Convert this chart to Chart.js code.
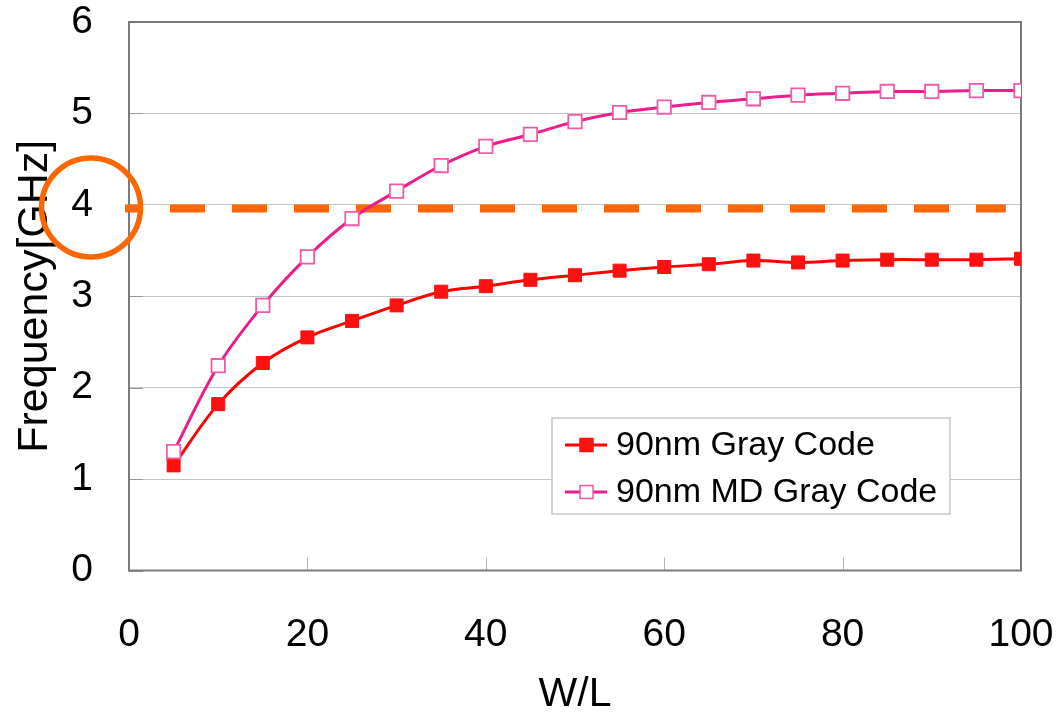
<!DOCTYPE html>
<html><head><meta charset="utf-8">
<script src="https://cdn.jsdelivr.net/npm/chart.js@4.4.1/dist/chart.umd.min.js"></script>
<style>html,body{margin:0;padding:0;background:#fff;}#wrap{width:1059px;height:714px;}</style>
</head><body><div id="wrap"><canvas id="c" width="1059" height="714"></canvas></div>
<script>
const wl = [5,10,15,20,25,30,35,40,45,50,55,60,65,70,75,80,85,90,95,100];
const grayCode = [1.15,1.82,2.27,2.55,2.73,2.90,3.05,3.11,3.18,3.23,3.28,3.32,3.35,3.39,3.37,3.39,3.40,3.40,3.40,3.41];
const mdGrayCode = [1.30,2.24,2.90,3.43,3.85,4.15,4.43,4.64,4.77,4.91,5.01,5.07,5.12,5.16,5.20,5.22,5.24,5.24,5.25,5.25];
const targetX = [-0.45, 98.3];
const targetY = [3.96, 3.96];
const seriesNames = ['90nm Gray Code', '90nm MD Gray Code'];
const xTicks = [0,20,40,60,80,100];
const yTicks = [0,1,2,3,4,5,6];

const FONT = "'Liberation Sans', Arial, sans-serif";
const RED = '#FF0000', RED_PT = '#FF1010';
const PINK = '#EC1C8C', PINK_PT = '#F25AA8';
const ORANGE = '#FF6600';

const toXY = (xs, ys) => xs.map((v, i) => ({x: v, y: ys[i]}));
const zeroPad = s => { s.paddingTop = 0; s.paddingBottom = 0; s.paddingLeft = 0; s.paddingRight = 0; };

const deco = {
  id: 'deco',
  beforeDatasetsDraw(chart) {
    const {ctx, chartArea: a, scales: {x, y}} = chart;
    ctx.save();
    ctx.strokeStyle = '#b4b4b4'; ctx.lineWidth = 1;
    xTicks.forEach(v => {
      if (v > 0 && v < 100) {
        const px = Math.round(x.getPixelForValue(v)) + 0.5;
        ctx.beginPath(); ctx.moveTo(px, a.bottom); ctx.lineTo(px, a.bottom - 13); ctx.stroke();
      }
    });
    ctx.strokeStyle = '#999';
    yTicks.forEach(v => {
      const py = Math.round(y.getPixelForValue(v)) + 0.5;
      ctx.beginPath(); ctx.moveTo(a.left, py); ctx.lineTo(a.left + 14, py); ctx.stroke();
    });
    ctx.strokeStyle = '#7a7a7a'; ctx.lineWidth = 2;
    ctx.strokeRect(a.left, a.top, a.right - a.left, a.bottom - a.top);
    ctx.restore();
  },
  afterDraw(chart) {
    const {ctx, chartArea: a, scales: {x, y}} = chart;
    ctx.save();
    ctx.strokeStyle = ORANGE; ctx.lineWidth = 5.5;
    ctx.beginPath();
    ctx.arc(a.left - 38, y.getPixelForValue(3.96) - 1, 49.5, 0, Math.PI * 2);
    ctx.stroke();
    const lx = 552, ly = 418, lw = 398, lh = 96;
    ctx.fillStyle = '#fff'; ctx.fillRect(lx, ly, lw, lh);
    ctx.strokeStyle = '#c8c8c8'; ctx.lineWidth = 1.5;
    ctx.strokeRect(lx, ly, lw, lh);
    const rows = [
      {y: 445, line: RED, fill: RED_PT, stroke: RED_PT},
      {y: 492, line: PINK, fill: '#fff', stroke: PINK_PT}
    ];
    rows.forEach((r, i) => {
      ctx.strokeStyle = r.line; ctx.lineWidth = 3;
      ctx.beginPath(); ctx.moveTo(565, r.y); ctx.lineTo(607, r.y); ctx.stroke();
      ctx.fillStyle = r.fill; ctx.fillRect(580, r.y - 6.5, 13, 13);
      ctx.strokeStyle = r.stroke; ctx.lineWidth = 1.5; ctx.strokeRect(580, r.y - 6.5, 13, 13);
      ctx.fillStyle = '#000'; ctx.font = '34px ' + FONT; ctx.textBaseline = 'middle'; ctx.textAlign = 'left';
      ctx.fillText(seriesNames[i], 616, r.y + 1);
    });
    ctx.restore();
  }
};

new Chart(document.getElementById('c'), {
  type: 'line',
  data: {
    datasets: [
      {
        label: seriesNames[1], data: toXY(wl, mdGrayCode),
        borderColor: PINK, borderWidth: 3, tension: 0.35,
        pointStyle: 'rect', pointRadius: 9.5, pointBackgroundColor: '#fff',
        pointBorderColor: PINK_PT, pointBorderWidth: 1.8
      },
      {
        label: seriesNames[0], data: toXY(wl, grayCode),
        borderColor: RED, borderWidth: 3, tension: 0.35,
        pointStyle: 'rect', pointRadius: 9.2, pointBackgroundColor: RED_PT,
        pointBorderColor: RED_PT, pointBorderWidth: 1
      },
      {
        label: 'target', data: toXY(targetX, targetY),
        borderColor: ORANGE, borderWidth: 8, borderDash: [35, 27], borderDashOffset: 17,
        borderCapStyle: 'butt', pointRadius: 0, tension: 0, clip: false
      }
    ]
  },
  options: {
    responsive: false, animation: false, devicePixelRatio: 1,
    layout: {padding: {top: 22, right: 38, left: 0, bottom: 0}},
    plugins: {legend: {display: false}, tooltip: {enabled: false}},
    scales: {
      x: {
        type: 'linear', min: 0, max: 100,
        afterBuildTicks: s => { s.ticks = xTicks.map(v => ({value: v})); },
        ticks: {font: {family: FONT, size: 39, lineHeight: 1.2}, color: '#000', padding: 41.5, maxRotation: 0, autoSkip: false},
        grid: {display: false, drawTicks: false},
        border: {display: false},
        title: {display: true, text: 'W/L', color: '#000', font: {family: FONT, size: 41, lineHeight: 0.95}, padding: {top: 0, bottom: 0}},
        afterFit: s => { s.height = 143.5; zeroPad(s); }
      },
      y: {
        type: 'linear', min: 0, max: 6,
        afterBuildTicks: s => { s.ticks = yTicks.map(v => ({value: v})); },
        ticks: {font: {family: FONT, size: 39, lineHeight: 1.0}, color: '#000', padding: 36},
        grid: {color: '#c4c4c4', lineWidth: 1, drawTicks: false},
        border: {display: false},
        title: {display: true, text: 'Frequency[GHz]', color: '#000', font: {family: FONT, size: 43, lineHeight: 1.2}, padding: {top: 9, bottom: 0}},
        afterFit: s => { s.width = 129; zeroPad(s); }
      }
    }
  },
  plugins: [deco]
});
</script>
</body></html>
